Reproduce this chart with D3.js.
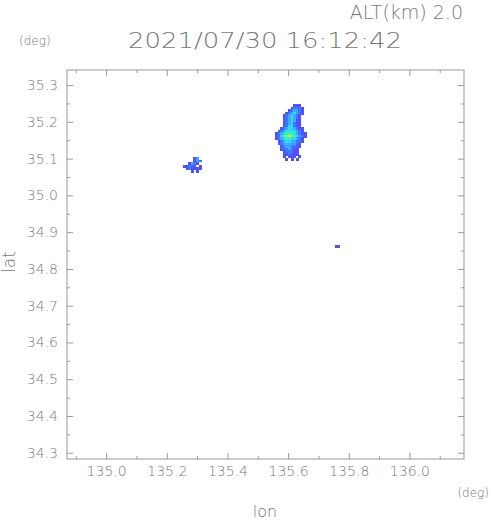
<!DOCTYPE html>
<html>
<head>
<meta charset="utf-8">
<script src="https://cdn.jsdelivr.net/npm/d3@7"></script>
<style>
  body { margin: 0; background: #fff; }
  svg text { font-family: "DejaVu Sans", sans-serif; font-weight: 200; fill: #777; }
</style>
</head>
<body>
<div id="chart"></div>
<script>
// axis ranges and tick labels
const lonDomain = [134.871, 136.18];
const latDomain = [34.283, 35.341];
const lonMajor = [135.0, 135.2, 135.4, 135.6, 135.8, 136.0];
const lonMinor = [134.9, 135.1, 135.3, 135.5, 135.7, 135.9, 136.1];
const latMajor = [34.3, 34.4, 34.5, 34.6, 34.7, 34.8, 34.9, 35.0, 35.1, 35.2, 35.3];
const latMinor = [34.35, 34.45, 34.55, 34.65, 34.75, 34.85, 34.95, 35.05, 35.15, 35.25];

// echo intensity levels (0 = none), cell size in degrees
const cellLon = 0.0086;
const cellLat = 0.007;
const levelColors = ["#5050ff", "#3c78ff", "#3ca8ff", "#30d8f0", "#40f0b0", "#70ff60", "#c8ff30"];

// main cell north-east of centre, rows from north to south
const mainLon0 = 135.5568;
const mainLat0 = 35.2485;
const mainRows = [
  "000000011100",
  "000000122210",
  "000001233210",
  "000012343210",
  "000123432100",
  "000123432100",
  "000123431100",
  "000123421100",
  "000124421100",
  "001234432110",
  "012344443210",
  "123455543211",
  "124567654321",
  "123455443210",
  "012344332210",
  "012333332100",
  "001233221100",
  "001223211000",
  "000122211000",
  "000112111000",
  "000101110100",
  "000010101000"
];

// small cell to the west
const westLon0 = 135.2535;
const westLat0 = 35.1044;
const westRows = [
  "0000130",
  "0000132",
  "0013210",
  "1122101",
  "0121111",
  "0001010"
];

// isolated speck to the south-east
const speckLon0 = 135.7546;
const speckLat0 = 34.865;
const speckRows = ["11"];

const W = 491, H = 521;
const svg = d3.select("#chart").append("svg")
  .attr("width", W).attr("height", H);

const x = d3.scaleLinear().domain(lonDomain).range([67, 464]);
const y = d3.scaleLinear().domain(latDomain).range([459, 70]);

// cells
function drawCells(lon0, lat0, rows) {
  const cells = [];
  rows.forEach((row, r) => {
    row.split("").forEach((ch, c) => {
      const v = +ch;
      if (v > 0) cells.push({ lon: lon0 + c * cellLon, lat: lat0 - r * cellLat, v });
    });
  });
  svg.append("g")
    .attr("shape-rendering", "crispEdges")
    .selectAll("rect")
    .data(cells)
    .join("rect")
    .attr("x", d => x(d.lon))
    .attr("y", d => y(d.lat))
    .attr("width", x(lonDomain[0] + cellLon) - x(lonDomain[0]) + 0.3)
    .attr("height", y(latDomain[1] - cellLat) - y(latDomain[1]) + 0.3)
    .attr("fill", d => levelColors[d.v - 1]);
}
drawCells(mainLon0, mainLat0, mainRows);
drawCells(westLon0, westLat0, westRows);
drawCells(speckLon0, speckLat0, speckRows);

// frame
svg.append("rect")
  .attr("x", 67).attr("y", 70)
  .attr("width", 397).attr("height", 389)
  .attr("fill", "none").attr("stroke", "#999").attr("stroke-width", 1);

function styleAxis(g) {
  g.select(".domain").remove();
  g.selectAll(".tick line").attr("stroke", "#999");
  g.selectAll(".tick text").attr("fill", "#777").style("font-size", "14px")
    .style("font-family", "DejaVu Sans, sans-serif").style("font-weight", 200);
}

// bottom
svg.append("g").attr("transform", "translate(0,459)")
  .call(d3.axisBottom(x).tickValues(lonMajor).tickSize(-6).tickSizeOuter(0)
    .tickPadding(7).tickFormat(d3.format(".1f")))
  .call(styleAxis);
svg.append("g").attr("transform", "translate(0,459)")
  .call(d3.axisBottom(x).tickValues(lonMinor).tickSize(-3).tickSizeOuter(0).tickFormat(""))
  .call(styleAxis);
// top
svg.append("g").attr("transform", "translate(0,70)")
  .call(d3.axisTop(x).tickValues(lonMajor).tickSize(-6).tickSizeOuter(0).tickFormat(""))
  .call(styleAxis);
svg.append("g").attr("transform", "translate(0,70)")
  .call(d3.axisTop(x).tickValues(lonMinor).tickSize(-3).tickSizeOuter(0).tickFormat(""))
  .call(styleAxis);
// left
svg.append("g").attr("transform", "translate(67,0)")
  .call(d3.axisLeft(y).tickValues(latMajor).tickSize(-6).tickSizeOuter(0)
    .tickPadding(9).tickFormat(d3.format(".1f")))
  .call(styleAxis);
svg.append("g").attr("transform", "translate(67,0)")
  .call(d3.axisLeft(y).tickValues(latMinor).tickSize(-3).tickSizeOuter(0).tickFormat(""))
  .call(styleAxis);
// right
svg.append("g").attr("transform", "translate(464,0)")
  .call(d3.axisRight(y).tickValues(latMajor).tickSize(-6).tickSizeOuter(0).tickFormat(""))
  .call(styleAxis);
svg.append("g").attr("transform", "translate(464,0)")
  .call(d3.axisRight(y).tickValues(latMinor).tickSize(-3).tickSizeOuter(0).tickFormat(""))
  .call(styleAxis);

// texts
svg.append("text").attr("x", 463).attr("y", 19).attr("text-anchor", "end")
  .style("font-size", "19px").text("ALT(km) 2.0");
svg.append("text").attr("x", 128).attr("y", 48)
  .attr("textLength", 274).attr("lengthAdjust", "spacingAndGlyphs")
  .style("font-size", "22px").text("2021/07/30 16:12:42");
svg.append("text").attr("x", 19).attr("y", 45)
  .style("font-size", "12px").text("(deg)");
svg.append("text").attr("x", 489).attr("y", 497).attr("text-anchor", "end")
  .style("font-size", "12px").text("(deg)");
svg.append("text").attr("x", 265).attr("y", 517).attr("text-anchor", "middle")
  .style("font-size", "16px").text("lon");
svg.append("text").attr("transform", "translate(15,262) rotate(-90)")
  .attr("text-anchor", "middle")
  .style("font-size", "17px").text("lat");
</script>
</body>
</html>
